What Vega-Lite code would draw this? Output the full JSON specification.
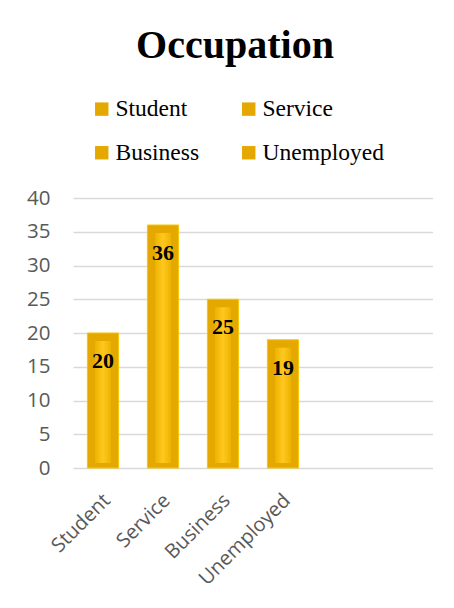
{
  "$schema": "https://vega.github.io/schema/vega-lite/v6.json",
  "width": 360,
  "height": 270,
  "padding": {"left": 26, "top": 26, "right": 0, "bottom": 0},
  "background": "white",
  "title": {
    "text": "Occupation",
    "font": "Liberation Serif",
    "fontSize": 40,
    "fontWeight": "bold",
    "color": "black",
    "anchor": "middle",
    "frame": "group",
    "dx": -18,
    "offset": 31
  },
  "config": {"view": {"stroke": null}},
  "data": {
    "values": [
      {"occupation": "Student", "count": 20},
      {"occupation": "Service", "count": 36},
      {"occupation": "Business", "count": 25},
      {"occupation": "Unemployed", "count": 19}
    ]
  },
  "encoding": {
    "x": {
      "field": "occupation",
      "type": "nominal",
      "sort": null,
      "scale": {
        "domain": ["Student", "Service", "Business", "Unemployed", " ", "  "],
        "paddingInner": 0.48,
        "paddingOuter": 0.24
      },
      "axis": {
        "title": null,
        "labelAngle": -45,
        "labelFont": "Open Sans",
        "labelFontSize": 20,
        "labelColor": "#595959",
        "labelPadding": 22,
        "labelOffset": -3,
        "ticks": false,
        "tickSize": 0,
        "domain": false,
        "grid": false
      }
    },
    "y": {
      "field": "count",
      "type": "quantitative",
      "scale": {"domain": [0, 40]},
      "axis": {
        "title": null,
        "values": [0, 5, 10, 15, 20, 25, 30, 35, 40],
        "labelFont": "Open Sans",
        "labelFontSize": 20.5,
        "labelColor": "#595959",
        "labelPadding": 23,
        "ticks": false,
        "tickSize": 0,
        "domain": false,
        "grid": true,
        "gridColor": "#D9D9D9",
        "gridWidth": 1.6
      }
    }
  },
  "layer": [
    {
      "mark": {"type": "bar", "stroke": "#F7C800", "strokeWidth": 1},
      "encoding": {
        "color": {
          "field": "occupation",
          "type": "nominal",
          "sort": null,
          "scale": {
            "domain": ["Student", "Service", "Business", "Unemployed"],
            "range": ["#E5A800", "#E5A800", "#E5A800", "#E5A800"]
          },
          "legend": {
            "orient": "none",
            "direction": "horizontal",
            "legendX": 17,
            "legendY": -101,
            "columns": 2,
            "title": null,
            "labelFont": "Liberation Serif",
            "labelFontSize": 23.5,
            "labelColor": "black",
            "labelLimit": 300,
            "symbolType": "square",
            "symbolSize": 180,
            "symbolStrokeWidth": 0,
            "rowPadding": 19,
            "columnPadding": 37,
            "labelOffset": 2,
            "padding": 0
          }
        }
      }
    },
    {
      "mark": {
        "type": "bar",
        "size": 16,
        "yOffset": 8,
        "y2Offset": -5,
        "fill": {
          "gradient": "linear",
          "x1": 0, "y1": 0, "x2": 1, "y2": 0,
          "stops": [
            {"offset": 0, "color": "#EDB300"},
            {"offset": 0.5, "color": "#FFC81F"},
            {"offset": 1, "color": "#EDB300"}
          ]
        }
      },
      "encoding": {"y2": {"datum": 0}}
    },
    {
      "mark": {
        "type": "text",
        "font": "Liberation Serif",
        "fontSize": 22,
        "fontWeight": "bold",
        "baseline": "alphabetic",
        "dy": 35,
        "color": "black"
      },
      "encoding": {"text": {"field": "count", "type": "quantitative"}}
    }
  ]
}
